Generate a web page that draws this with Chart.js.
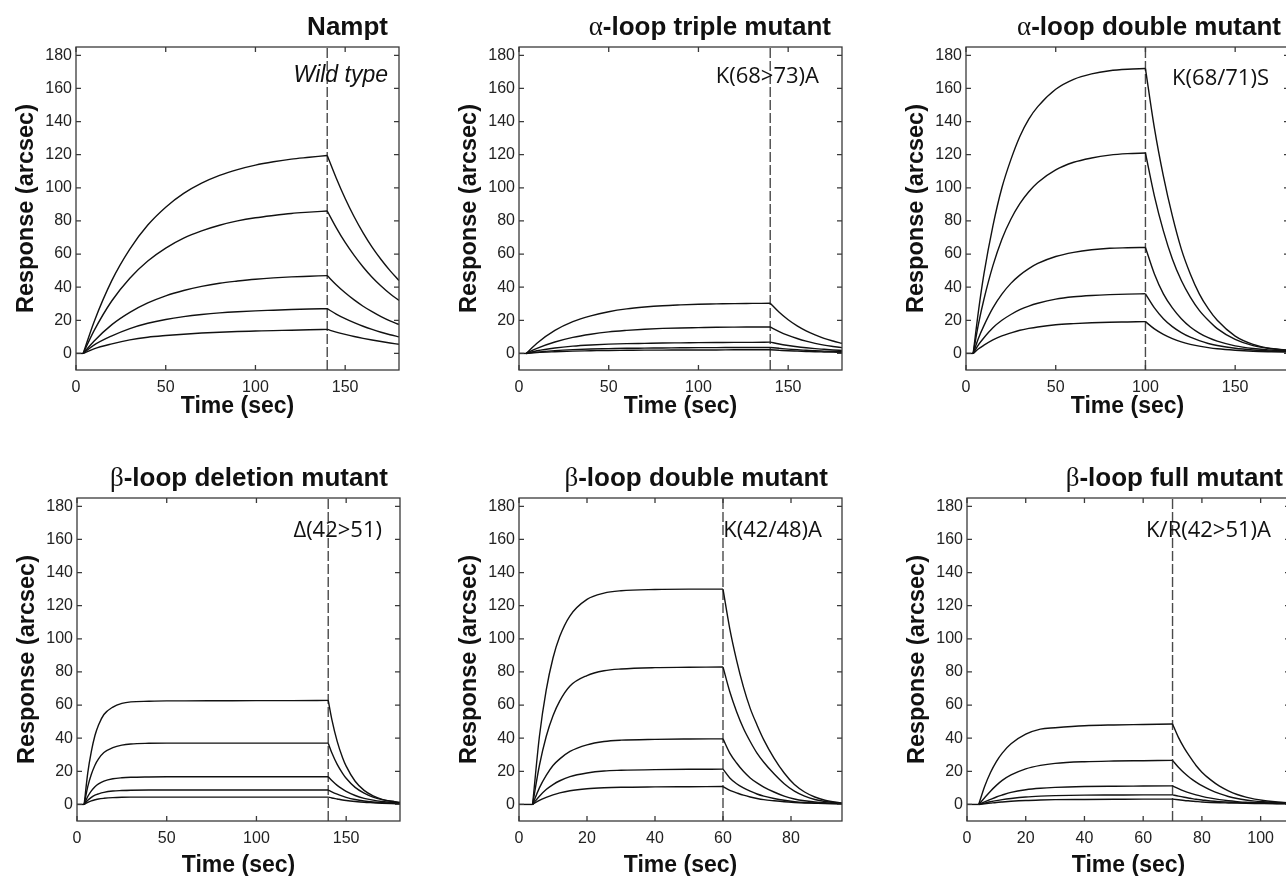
<!DOCTYPE html>
<html lang="en">
<head>
<meta charset="UTF-8">
<title>Nampt binding kinetics</title>
<script src="https://cdn.jsdelivr.net/npm/chart.js"></script>
<style>
  html, body { margin: 0; padding: 0; background: #fff; overflow: hidden; }
  body { width: 1286px; height: 876px; position: relative; }
  canvas { position: absolute; }
</style>
</head>
<body>
<canvas id="c1" width="413" height="430" style="left:0px;top:0px"></canvas>
<canvas id="c2" width="413" height="430" style="left:443px;top:0px"></canvas>
<canvas id="c3" width="413" height="430" style="left:890px;top:0px"></canvas>
<canvas id="c4" width="413" height="430" style="left:1px;top:451px"></canvas>
<canvas id="c5" width="413" height="430" style="left:443px;top:451px"></canvas>
<canvas id="c6" width="413" height="430" style="left:891px;top:451px"></canvas>

<script>
  // ticks
  const yTicks = [0, 20, 40, 60, 80, 100, 120, 140, 160, 180];
  const ticks180 = [0, 50, 100, 150];
  const ticks95 = [0, 20, 40, 60, 80];
  const ticks110 = [0, 20, 40, 60, 80, 100];

  // Nampt wild type (association / dissociation)
  const wtOnT = [4, 10, 20, 30, 40, 50, 60, 70, 80, 90, 100, 110, 120, 130, 140];
  const wtOn = [
    [0, 18.9, 44.1, 63, 77.5, 88.3, 96.6, 102.8, 107.5, 111, 113.7, 115.7, 117.3, 118.4, 119.5],
    [0, 13.6, 31.8, 45.4, 55.8, 63.6, 69.6, 74, 77.4, 80, 81.9, 83.3, 84.5, 85.3, 86],
    [0, 7.4, 17.4, 24.8, 30.5, 34.8, 38, 40.5, 42.4, 43.7, 44.8, 45.6, 46.2, 46.6, 47],
    [0, 5, 10.6, 15, 18.2, 20.5, 22.2, 23.5, 24.5, 25.2, 25.7, 26.1, 26.5, 26.8, 27],
    [0, 2.8, 5.8, 8.2, 9.8, 10.8, 11.6, 12.3, 12.8, 13.2, 13.5, 13.8, 14, 14.3, 14.5]
  ];
  const wtOffT = [140, 145, 150, 155, 160, 165, 170, 175, 180];
  const wtOff = [
    [119.5, 105.9, 93.5, 82.5, 72.8, 64.2, 56.7, 50, 44],
    [86, 76, 67, 59.2, 52.2, 46, 40.7, 36, 32],
    [47, 41.5, 36.6, 32.3, 28.5, 25.2, 22.2, 19.6, 17.5],
    [27, 23.8, 21, 18.6, 16.4, 14.5, 12.8, 11.3, 10],
    [14.5, 12.9, 11.5, 10.2, 9.1, 8.1, 7.2, 6.3, 5.5]
  ];

  // alpha-loop triple mutant
  const triOnT = [4, 10, 20, 30, 40, 50, 60, 70, 80, 90, 100, 110, 120, 130, 140];
  const triOn = [
    [0, 6.2, 13.9, 19.2, 22.7, 25.2, 26.9, 28, 28.8, 29.3, 29.7, 29.9, 30.1, 30.2, 30.3],
    [0, 3.1, 6.9, 9.7, 11.6, 13, 13.9, 14.6, 15.1, 15.4, 15.6, 15.8, 15.9, 15.95, 16],
    [0, 1.6, 3.3, 4.4, 5.1, 5.6, 5.9, 6.1, 6.3, 6.4, 6.5, 6.6, 6.7, 6.7, 6.8],
    [0, 0.8, 1.7, 2.3, 2.7, 2.9, 3.1, 3.2, 3.3, 3.4, 3.5, 3.5, 3.6, 3.6, 3.6],
    [0, 0.5, 1, 1.4, 1.6, 1.8, 1.9, 2, 2, 2.1, 2.1, 2.1, 2.2, 2.2, 2.2]
  ];
  const triOffT = [140, 145, 150, 155, 160, 165, 170, 175, 180];
  const triOff = [
    [30.3, 24.8, 20.3, 16.6, 13.6, 11.2, 9.1, 7.5, 6.1],
    [16, 13.2, 10.9, 9, 7.4, 6.1, 5, 4.2, 3.5],
    [6.8, 5.7, 4.8, 4, 3.4, 2.9, 2.5, 2.1, 1.8],
    [3.6, 3.1, 2.6, 2.2, 1.9, 1.6, 1.4, 1.2, 1],
    [2.2, 1.9, 1.6, 1.4, 1.2, 1, 0.9, 0.8, 0.7]
  ];

  // alpha-loop double mutant
  const dblOnT = [4, 7, 10, 15, 20, 25, 30, 35, 40, 50, 60, 70, 80, 90, 100];
  const dblOn = [
    [0, 26, 48, 77, 100, 117, 131, 141.5, 149, 159.5, 165.5, 168.8, 170.7, 171.6, 172],
    [0, 18, 32.7, 53, 69, 81, 90.4, 97.6, 103.2, 110.8, 115.4, 118, 119.7, 120.6, 121],
    [0, 9.3, 16.8, 27.5, 35.8, 42.3, 47.3, 51.2, 54.3, 58.5, 61, 62.6, 63.5, 63.8, 64],
    [0, 5.3, 9.5, 15.5, 20, 23.5, 26.4, 28.6, 30.3, 32.8, 34.2, 35, 35.5, 35.8, 36],
    [0, 2.8, 5, 8.2, 10.6, 12.4, 14, 15.1, 16, 17.3, 18, 18.5, 18.8, 19, 19.2]
  ];
  const dblOffT = [100, 105, 110, 115, 120, 125, 130, 135, 140, 150, 160, 170, 180];
  const dblOff = [
    [172, 136, 107, 83, 63, 48, 36, 27, 20, 10.5, 5.5, 3, 2],
    [121, 95, 74, 57, 44, 34, 26, 20, 15, 8.5, 4.7, 2.8, 1.8],
    [64, 48, 36, 27.5, 21, 16, 12.3, 9.5, 7.4, 4.6, 3, 2, 1.4],
    [36, 27.5, 21, 16.2, 12.6, 9.8, 7.7, 6, 4.8, 3.1, 2.1, 1.5, 1.1],
    [19.2, 14.8, 11.5, 9, 7, 5.5, 4.4, 3.5, 2.8, 1.9, 1.3, 1, 0.8]
  ];

  // beta-loop deletion mutant
  const delOnT = [4, 6, 8, 10, 12, 15, 20, 25, 30, 40, 50, 60, 80, 100, 120, 140];
  const delOn = [
    [0, 19, 32, 41.6, 48, 54.3, 58.8, 61, 61.9, 62.3, 62.5, 62.5, 62.6, 62.7, 62.7, 62.8],
    [0, 10.7, 18.2, 23.7, 27.5, 31.3, 34.3, 35.8, 36.5, 36.9, 37, 37, 37, 37, 37, 37],
    [0, 4.8, 8.2, 10.7, 12.4, 14.1, 15.5, 16.1, 16.4, 16.6, 16.7, 16.7, 16.7, 16.7, 16.7, 16.7],
    [0, 2.5, 4.3, 5.6, 6.4, 7.3, 8.1, 8.4, 8.6, 8.7, 8.7, 8.7, 8.7, 8.7, 8.7, 8.7],
    [0, 1.3, 2.2, 2.8, 3.3, 3.7, 4.1, 4.3, 4.4, 4.4, 4.4, 4.4, 4.4, 4.4, 4.4, 4.4]
  ];
  const delOffT = [140, 142, 145, 148, 150, 155, 160, 165, 170, 175, 180];
  const delOff = [
    [62.8, 51.4, 38.1, 28.2, 23.1, 14, 8.5, 5.2, 3.1, 1.9, 1.2],
    [37, 31.2, 24.2, 18.8, 15.8, 10.3, 6.8, 4.4, 2.9, 1.9, 1.2],
    [16.7, 14.4, 11.5, 9.2, 7.9, 5.4, 3.7, 2.6, 1.8, 1.2, 0.9],
    [8.7, 7.6, 6.2, 5, 4.3, 3, 2.1, 1.5, 1.1, 0.8, 0.6],
    [4.4, 3.9, 3.3, 2.7, 2.4, 1.8, 1.3, 1, 0.7, 0.5, 0.4]
  ];

  // beta-loop double mutant
  const bdOnT = [4, 6, 8, 10, 12, 15, 20, 25, 30, 40, 50, 60];
  const bdOn = [
    [0, 41, 69, 88.4, 101.5, 113.9, 123.8, 127.6, 129, 129.8, 130, 130],
    [0, 23.5, 41, 53.5, 62.5, 71.5, 77.8, 80.7, 81.8, 82.6, 82.8, 83],
    [0, 10, 17.5, 23.5, 27.5, 32, 36, 38, 38.8, 39.3, 39.5, 39.6],
    [0, 5, 9, 12, 14.3, 16.8, 19, 20.2, 20.6, 21, 21.2, 21.3],
    [0, 2.5, 4.3, 5.8, 7, 8.3, 9.5, 10.1, 10.4, 10.6, 10.7, 10.8]
  ];
  const bdOffT = [60, 62, 64, 66, 68, 70, 72, 75, 78, 81, 84, 87, 90, 95];
  const bdOff = [
    [130, 106, 87, 71, 58, 48, 39, 28, 19, 12, 7.5, 4.5, 2.5, 0.8],
    [83, 68, 56, 46, 38, 31, 25.5, 18.5, 12.5, 8, 5, 3, 1.8, 0.7],
    [39.6, 31, 25, 20, 16, 13, 10.5, 7.5, 5, 3.3, 2.2, 1.5, 1, 0.5],
    [21.3, 16, 12.5, 10, 8, 6.3, 5, 3.6, 2.5, 1.7, 1.2, 0.9, 0.7, 0.4],
    [10.8, 8.5, 7, 5.6, 4.5, 3.6, 2.9, 2.2, 1.6, 1.2, 0.9, 0.7, 0.5, 0.3]
  ];

  // beta-loop full mutant
  const fullOnT = [4, 6, 8, 10, 12, 15, 20, 25, 30, 40, 50, 60, 70];
  const fullOn = [
    [0, 10.8, 19.3, 25.9, 31, 36.6, 42.4, 45.5, 46.3, 47.5, 48, 48.3, 48.6],
    [0, 4, 8, 11.5, 14.5, 17.8, 21.5, 23.6, 24.8, 25.8, 26.2, 26.4, 26.6],
    [0, 1.5, 3, 4.5, 5.7, 7.3, 8.9, 9.8, 10.3, 10.8, 11, 11.1, 11.2],
    [0, 0.8, 1.6, 2.3, 2.9, 3.6, 4.5, 5, 5.3, 5.6, 5.7, 5.8, 5.8],
    [0, 0.4, 0.8, 1.2, 1.5, 1.9, 2.4, 2.7, 2.9, 3, 3.1, 3.2, 3.2]
  ];
  const fullOffT = [70, 72, 74, 76, 78, 80, 83, 86, 89, 92, 95, 98, 101, 104, 107, 110];
  const fullOff = [
    [48.6, 40.5, 34, 28.5, 23.5, 19.5, 14.8, 11, 8.2, 6, 4.4, 3.2, 2.4, 1.8, 1.3, 1],
    [26.6, 22.5, 19, 16, 13.5, 11.3, 8.6, 6.5, 4.8, 3.6, 2.7, 2, 1.6, 1.3, 1, 0.9],
    [11.2, 9.5, 8, 6.8, 5.8, 4.9, 3.8, 2.9, 2.2, 1.7, 1.3, 1.1, 1, 0.9, 0.8, 0.8],
    [5.8, 5, 4.3, 3.7, 3.1, 2.7, 2.1, 1.7, 1.4, 1.1, 0.9, 0.8, 0.7, 0.6, 0.5, 0.5],
    [3.2, 2.8, 2.4, 2.1, 1.8, 1.5, 1.2, 1, 0.9, 0.8, 0.7, 0.6, 0.5, 0.5, 0.4, 0.4]
  ];

  const SANS = '"Liberation Sans", Arial, Helvetica, sans-serif';

  const panels = [
    { id: 'c1', greek: '', title: 'Nampt', note: 'Wild type', italic: true, xMax: 180, xTicks: ticks180, onT: wtOnT, on: wtOn, offT: wtOffT, off: wtOff, titleDx: 11, noteDx: 11, noteDy: 35, xTitlePad: 10 },
    { id: 'c2', greek: 'α', title: '-loop triple mutant', note: 'K(68>73)A', xMax: 180, xTicks: ticks180, onT: triOnT, on: triOn, offT: triOffT, off: triOff, titleDx: 11, noteDx: 23, noteDy: 36, xTitlePad: 10 },
    { id: 'c3', greek: 'α', title: '-loop double mutant', note: 'K(68/71)S', xMax: 180, xTicks: ticks180, onT: dblOnT, on: dblOn, offT: dblOffT, off: dblOff, titleDx: 8, noteDx: 20, noteDy: 38, xTitlePad: 10 },
    { id: 'c4', greek: 'β', title: '-loop deletion mutant', note: 'Δ(42>51)', xMax: 180, xTicks: ticks180, onT: delOnT, on: delOn, offT: delOffT, off: delOff, titleDx: 12, noteDx: 18, noteDy: 39, xTitlePad: 2 },
    { id: 'c5', greek: 'β', title: '-loop double mutant', note: 'K(42/48)A', xMax: 95, xTicks: ticks95, onT: bdOnT, on: bdOn, offT: bdOffT, off: bdOff, titleDx: 14, noteDx: 20, noteDy: 39, xTitlePad: 2 },
    { id: 'c6', greek: 'β', title: '-loop full mutant', note: 'K/R(42>51)A', xMax: 110, xTicks: ticks110, onT: fullOnT, on: fullOn, offT: fullOffT, off: fullOff, titleDx: 7, noteDx: 19, noteDy: 39, xTitlePad: 2 }
  ];

  function pts(ts, vs) {
    return ts.map((t, i) => ({ x: t, y: vs[i] }));
  }

  function decor(p) {
    return {
      id: 'decor',
      afterDraw(chart) {
        const { ctx, chartArea: a, scales: { x, y } } = chart;
        ctx.save();
        // box with inward ticks on all sides
        ctx.strokeStyle = '#3a3a3a';
        ctx.lineWidth = 1.3;
        ctx.strokeRect(a.left, a.top, a.right - a.left, a.bottom - a.top);
        ctx.beginPath();
        p.xTicks.forEach(v => {
          const px = x.getPixelForValue(v);
          ctx.moveTo(px, a.bottom); ctx.lineTo(px, a.bottom - 5);
          ctx.moveTo(px, a.top); ctx.lineTo(px, a.top + 5);
        });
        yTicks.forEach(v => {
          const py = y.getPixelForValue(v);
          ctx.moveTo(a.left, py); ctx.lineTo(a.left + 5, py);
          ctx.moveTo(a.right, py); ctx.lineTo(a.right - 5, py);
        });
        ctx.stroke();

        // panel title
        ctx.fillStyle = '#111';
        ctx.textBaseline = 'alphabetic';
        ctx.textAlign = 'right';
        const tx = a.right - p.titleDx, ty = a.top - 12;
        ctx.font = 'bold 26px ' + SANS;
        ctx.fillText(p.title, tx, ty);
        if (p.greek) {
          const w = ctx.measureText(p.title).width;
          ctx.font = '27px "Liberation Serif", "DejaVu Serif", serif';
          ctx.fillText(p.greek, tx - w, ty);
        }

        // mutant label
        ctx.font = p.italic ? 'italic 23px ' + SANS : '22px "Open Sans", sans-serif';
        ctx.fillText(p.note, a.right - p.noteDx, a.top + p.noteDy);
        ctx.restore();
      }
    };
  }

  panels.forEach(p => {
    const tEnd = p.offT[0];
    const datasets = [];
    datasets.push({ data: [{ x: 0, y: 0 }, { x: 4, y: 0 }] });
    p.on.forEach(s => datasets.push({ data: pts(p.onT, s) }));
    p.off.forEach(s => datasets.push({ data: pts(p.offT, s) }));
    datasets.push({
      data: [{ x: tEnd, y: -10 }, { x: tEnd, y: 185 }],
      borderColor: '#4a4a4a', borderWidth: 1.4, borderDash: [10, 3], cubicInterpolationMode: 'default'
    });

    new Chart(document.getElementById(p.id), {
      type: 'line',
      data: { datasets: datasets },
      options: {
        responsive: false,
        animation: false,
        events: [],
        layout: { padding: { top: 47, right: 14, left: 0, bottom: 0 } },
        datasets: {
          line: { borderColor: '#111', borderWidth: 1.4, pointRadius: 0, cubicInterpolationMode: 'monotone', fill: false }
        },
        plugins: { legend: { display: false }, tooltip: { enabled: false } },
        scales: {
          x: {
            type: 'linear', min: 0, max: p.xMax,
            afterBuildTicks: s => { s.ticks = p.xTicks.map(v => ({ value: v })); },
            afterFit: s => { s.height = 60; },
            grid: { display: false, drawTicks: false },
            border: { display: false },
            ticks: { padding: 8, color: '#222', font: { family: SANS, size: 16 }, maxRotation: 0, autoSkip: false },
            title: { display: true, text: 'Time (sec)', color: '#111', font: { family: SANS, size: 23, weight: 'bold' }, padding: { top: 0, bottom: p.xTitlePad } }
          },
          y: {
            min: -10, max: 185,
            afterBuildTicks: s => { s.ticks = yTicks.map(v => ({ value: v })); },
            afterFit: s => { s.width = 76; },
            grid: { display: false, drawTicks: false },
            border: { display: false },
            ticks: { padding: 4, color: '#222', font: { family: SANS, size: 16 } },
            title: { display: true, text: 'Response (arcsec)', color: '#111', font: { family: SANS, size: 23.5, weight: 'bold' }, padding: { top: 12, bottom: 0 } }
          }
        }
      },
      plugins: [decor(p)]
    });
  });
</script>
</body>
</html>
